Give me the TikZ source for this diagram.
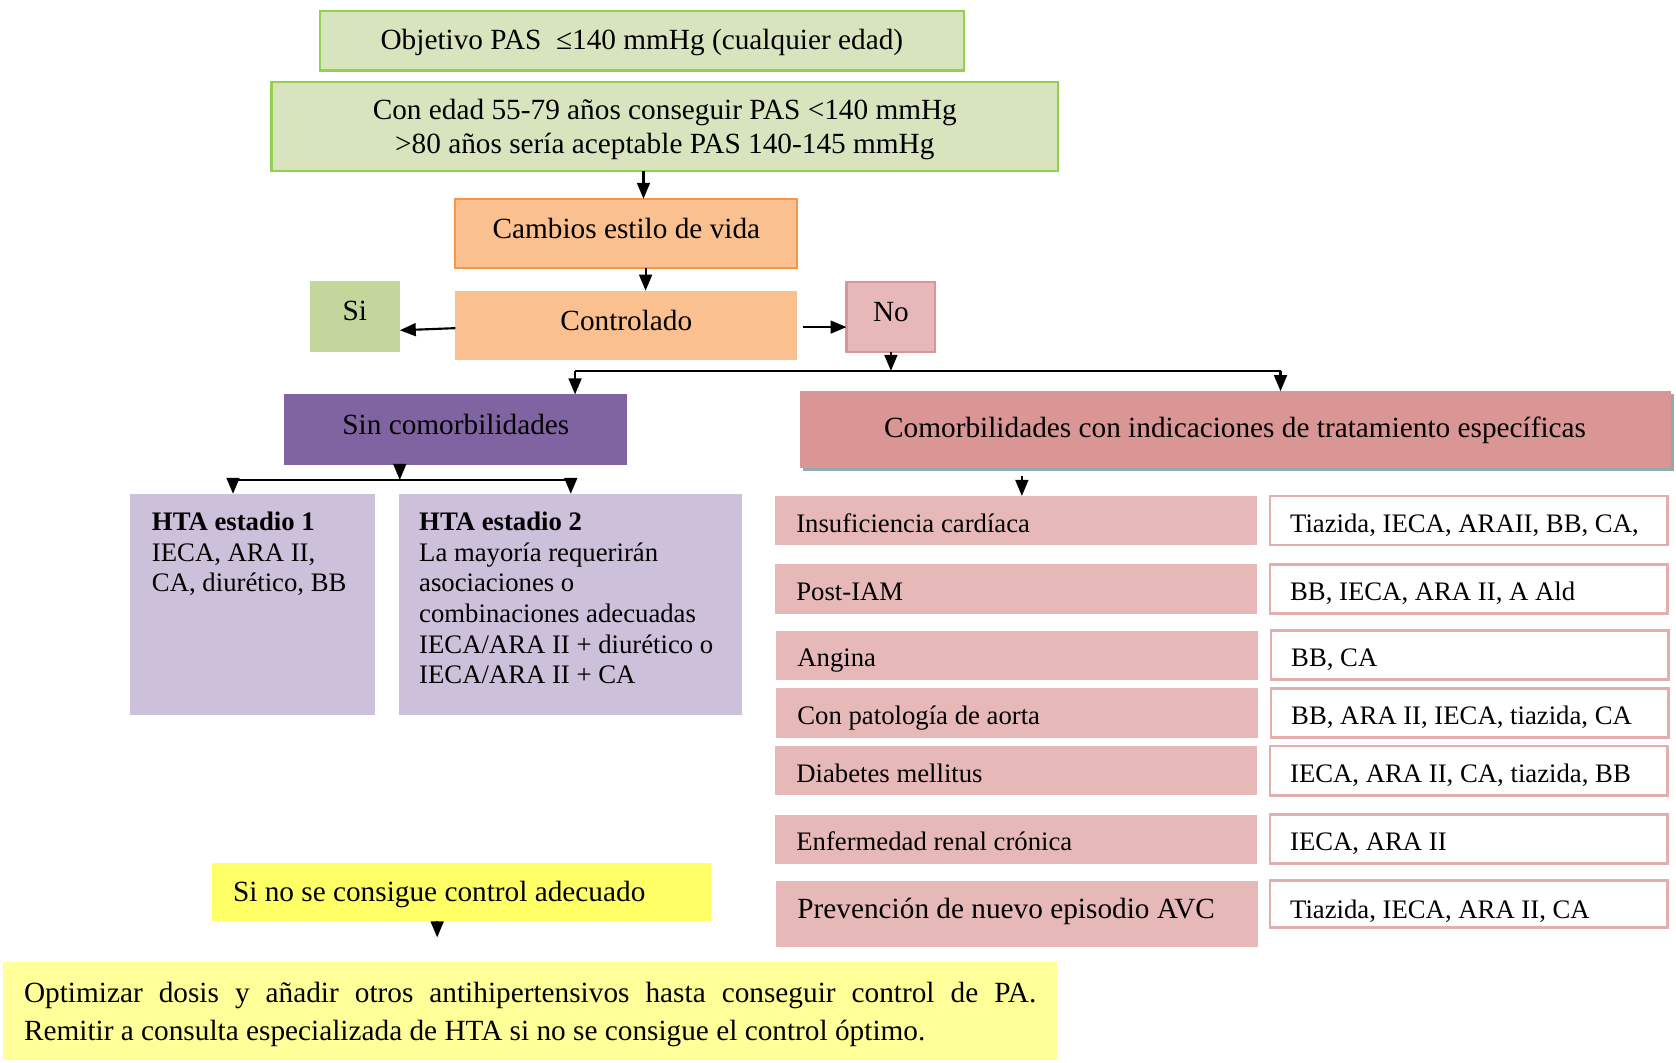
\documentclass[tikz,border=0pt]{standalone}
\usepackage{fontspec}
\setmainfont{Liberation Serif}
\usetikzlibrary{arrows.meta,calc,shadows}
\definecolor{grfill}{HTML}{D7E4BD}
\definecolor{grline}{HTML}{92D050}
\definecolor{orfill}{HTML}{FAC090}
\definecolor{orline}{HTML}{F79646}
\definecolor{sifill}{HTML}{C3D69B}
\definecolor{pkfill}{HTML}{E6B9B8}
\definecolor{pkline}{HTML}{D99694}
\definecolor{comfill}{HTML}{D99694}
\definecolor{shcol}{HTML}{93AAB4}
\definecolor{purp}{HTML}{8064A2}
\definecolor{lav}{HTML}{CCC0DA}
\definecolor{yel}{HTML}{FFFF66}
\definecolor{lyel}{HTML}{FFFF99}
\definecolor{rowline}{HTML}{E3AFAE}
\newcommand\fA{\fontsize{27.4}{32}\selectfont}
\newcommand\fB{\fontsize{25}{28.6}\selectfont}
\tikzset{
  box/.style={rectangle, inner sep=0pt, outer sep=0pt, font=\fA, align=center},
  arr/.style={line width=2pt, -{Triangle[width=12pt,length=15pt]}},
  rail/.style={line width=2pt},
  rowl/.style={box, fill=pkfill, minimum width=451pt, minimum height=46pt, font=\fB,
    align=flush left, text width=411pt, text height=28pt, text depth=6pt},
  rowr/.style={box, fill=white, draw=rowline, line width=2.5pt, minimum width=372pt,
    minimum height=46pt, font=\fB, align=flush left, text width=334pt, text height=28pt, text depth=6pt},
  htxt/.style={anchor=north west, inner sep=0pt, font=\fB, align=flush left}
}
\begin{document}
\begin{tikzpicture}[x=1pt,y=-1pt]
\useasboundingbox (0,0) rectangle (1568,994);
% top boxes
\node[box, fill=grfill, draw=grline, line width=2pt, minimum width=603pt, minimum height=56pt, text height=20pt, text depth=3pt] (b1) at (600.5,38) {Objetivo PAS\ \ ≤140 mmHg (cualquier edad)};
\node[box, fill=grfill, draw=grline, line width=2pt, minimum width=736pt, minimum height=83pt, text depth=1pt] (b2) at (622,118.5) {Con edad 55-79 años conseguir PAS <140 mmHg\\>80 años sería aceptable PAS 140-145 mmHg};
\node[box, fill=orfill, draw=orline, line width=2pt, minimum width=320pt, minimum height=65pt, text depth=10pt] (b3) at (586,218.5) {Cambios estilo de vida};
\node[box, fill=orfill, minimum width=320pt, minimum height=65pt, text depth=10pt] (ctrl) at (586,304.5) {Controlado};
\node[box, fill=sifill, minimum width=84pt, minimum height=66pt, text depth=10pt] (si) at (332,296) {Si};
\node[box, fill=pkfill, draw=pkline, line width=2pt, minimum width=83pt, minimum height=65pt, text depth=10pt] (no) at (833.5,296.5) {No};
% second level
\node[box, fill=purp, minimum width=321pt, minimum height=66pt, text depth=10pt] (sin) at (426.5,402) {Sin comorbilidades};
\node[box, fill=comfill, minimum width=815pt, minimum height=72pt, text depth=4pt,
  drop shadow={shadow xshift=3pt, shadow yshift=-3pt, fill=shcol, opacity=1}] (com) at (1155.5,402) {Comorbilidades con indicaciones de tratamiento específicas};
% HTA boxes
\node[box, fill=lav, minimum width=229pt, minimum height=207pt] (h1) at (236.5,565.5) {};
\node[box, fill=lav, minimum width=321pt, minimum height=207pt] (h2) at (533.5,565.5) {};
\node[htxt] (h1t) at (142,479) {\textbf{HTA estadio 1}\\IECA, ARA II,\\CA, diurético, BB};
\node[htxt] (h2t) at (392,479) {\textbf{HTA estadio 2}\\La mayoría requerirán\\asociaciones o\\combinaciones adecuadas\\IECA/ARA II + diurético o\\IECA/ARA II + CA};
% rows
\node[rowl] (r1l) at (950.5,487) {Insuficiencia cardíaca};
\node[rowr] (r1r) at (1374,487) {Tiazida, IECA, ARAII, BB, CA,};
\node[rowl] (r2l) at (950.5,551) {Post-IAM};
\node[rowr] (r2r) at (1374,551) {BB, IECA, ARA II, A Ald};
\node[rowl] (r3l) at (951.5,613) {Angina};
\node[rowr] (r3r) at (1375,613) {BB, CA};
\node[rowl] (r4l) at (951.5,667) {Con patología de aorta};
\node[rowr] (r4r) at (1375,667) {BB, ARA II, IECA, tiazida, CA};
\node[rowl] (r5l) at (950.5,721) {Diabetes mellitus};
\node[rowr] (r5r) at (1374,721) {IECA, ARA II, CA, tiazida, BB};
\node[rowl] (r6l) at (950.5,785) {Enfermedad renal crónica};
\node[rowr] (r6r) at (1374,785) {IECA, ARA II};
\node[rowl, minimum height=62pt, font=\fA, text height=20pt, text depth=11pt] (r7l) at (951.5,855) {Prevención de nuevo episodio AVC};
\node[rowr, minimum height=44pt, text height=33pt, text depth=6pt] (r7r) at (1374,846) {Tiazida, IECA, ARA II, CA};
% yellow boxes
\node[box, fill=yel, minimum width=467pt, minimum height=55pt, align=flush left, text width=427pt, text height=24pt, text depth=6pt] (yb) at (431.5,834.5) {Si no se consigue control adecuado};
\node[box, fill=lyel, minimum width=986pt, minimum height=92pt, align=justify, text width=947pt, text height=19pt, text depth=36pt, font=\fontsize{27.4}{36}\selectfont] (ob) at (496,946) {Optimizar dosis y añadir otros antihipertensivos hasta conseguir control de PA.\linebreak Remitir a consulta especializada de HTA si no se consigue el control óptimo.};
% coordinates
\coordinate (xa) at (602,0);
\coordinate (xb) at (604,0);
\coordinate (railL) at (538,347);
\coordinate (railR) at (1198,347);
\coordinate (m2) at (374,449);
\coordinate (l2) at (218,449);
\coordinate (r2) at (534,449);
\coordinate (x3) at (956,0);
\coordinate (ytip) at (409,877);
% connectors
\draw[arr] (b2.south -| xa) -- (b3.north -| xa);
\draw[arr] (b3.south -| xb) -- (ctrl.north -| xb);
\draw[arr] ($(ctrl.west)+(0,2.5)$) -- ($(si.east)+(0,13)$);
\draw[arr] ($(ctrl.east)+(5,1.5)$) -- ($(no.west)+(0,9.5)$);
\draw[arr] (no.south) -- (no.south |- railL);
\draw[rail] (railL) -- (railR);
\draw[arr] (railL) -- (railL |- sin.north);
\draw[arr] (railR) -- (railR |- com.north);
\draw[arr] (sin.south -| m2) -- (m2);
\draw[rail] (l2) -- (r2);
\draw[arr] (l2) -- (l2 |- h1.north);
\draw[arr] (r2) -- (r2 |- h2.north);
\draw[arr, shorten <=7pt] (com.south -| x3) -- (r1l.north -| x3);
\draw[arr] (yb.south -| ytip) -- (ytip);
\end{tikzpicture}
\end{document}
